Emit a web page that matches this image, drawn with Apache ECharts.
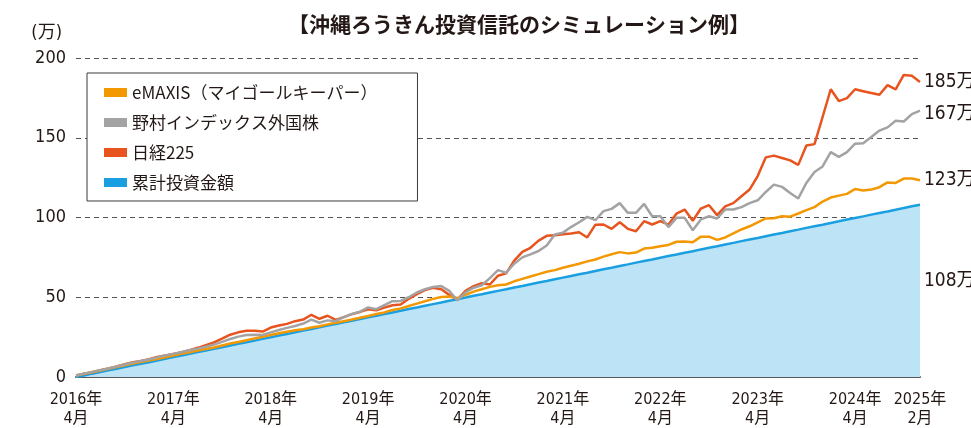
<!DOCTYPE html>
<html><head><meta charset="utf-8">
<script src="https://cdn.jsdelivr.net/npm/echarts@6/dist/echarts.min.js"></script>
<style>html,body{margin:0;padding:0;background:#fff}#c{width:971px;height:428px}</style>
</head><body><div id="c"></div>
<script>
const months = ['2016-04','2016-05','2016-06','2016-07','2016-08','2016-09','2016-10','2016-11','2016-12','2017-01','2017-02','2017-03',
'2017-04','2017-05','2017-06','2017-07','2017-08','2017-09','2017-10','2017-11','2017-12','2018-01','2018-02','2018-03',
'2018-04','2018-05','2018-06','2018-07','2018-08','2018-09','2018-10','2018-11','2018-12','2019-01','2019-02','2019-03',
'2019-04','2019-05','2019-06','2019-07','2019-08','2019-09','2019-10','2019-11','2019-12','2020-01','2020-02','2020-03',
'2020-04','2020-05','2020-06','2020-07','2020-08','2020-09','2020-10','2020-11','2020-12','2021-01','2021-02','2021-03',
'2021-04','2021-05','2021-06','2021-07','2021-08','2021-09','2021-10','2021-11','2021-12','2022-01','2022-02','2022-03',
'2022-04','2022-05','2022-06','2022-07','2022-08','2022-09','2022-10','2022-11','2022-12','2023-01','2023-02','2023-03',
'2023-04','2023-05','2023-06','2023-07','2023-08','2023-09','2023-10','2023-11','2023-12','2024-01','2024-02','2024-03',
'2024-04','2024-05','2024-06','2024-07','2024-08','2024-09','2024-10','2024-11','2025-02'];
const tickMonths = ['2016-04','2017-04','2018-04','2019-04','2020-04','2021-04','2022-04','2023-04','2024-04','2025-02'];
const tickLabels = ['2016年\n4月','2017年\n4月','2018年\n4月','2019年\n4月','2020年\n4月','2021年\n4月','2022年\n4月','2023年\n4月','2024年\n4月','2025年\n2月'];
const seriesNames = ['eMAXIS（マイゴールキーパー）','野村インデックス外国株','日経225','累計投資金額'];
const emaxis = [1.0,2.0,3.0,4.1,5.2,6.3,7.4,8.4,9.4,10.3, 11.2,12.3,13.5,14.5,15.5,16.6,17.5,18.5,19.8,21.0,
22.0,23.0,24.2,25.2,26.3,27.4,28.4,29.3,30.0,31.0, 31.8,33.0,34.0,35.0,36.0,37.2,38.3,39.5,40.5,42.0,
43.0,44.5,46.0,47.5,49.0,50.2,50.5,49.5,51.5,53.5, 55.0,56.5,57.5,58.0,60.0,61.5,63.0,64.5,66.0,67.0,
68.5,69.8,71.0,72.5,73.7,75.5,77.0,78.3,77.5,78.0, 80.5,81.0,82.0,82.8,84.8,85.0,84.5,88.0,88.0,86.0,
87.5,90.0,92.5,94.5,97.0,99.4,99.5,100.8,100.5,102.5, 104.6,106.5,110.0,112.5,113.7,114.8,117.9,116.9,117.5,119.0,
122.0,121.7,124.4,124.4,123.4];
const nomura = [1.0,2.0,3.2,4.2,5.3,6.5,7.8,9.0,10.0,11.0, 12.3,13.5,14.5,15.5,16.8,17.8,19.0,20.3,22.0,23.8,
25.3,26.3,26.5,26.3,28.0,29.5,30.8,32.0,33.5,36.0, 34.0,35.5,35.0,37.5,39.5,41.0,43.6,42.5,45.0,47.5,
47.7,50.0,53.0,55.0,56.5,57.0,54.0,48.0,53.0,56.0, 57.5,62.0,67.0,65.4,71.0,75.0,76.9,79.0,82.5,89.4,
90.5,94.0,97.0,100.4,98.3,104.0,105.4,109.0,102.9,102.9, 108.5,100.8,100.8,94.0,99.8,99.8,92.0,98.8,100.8,99.4,
105.0,105.0,106.5,109.0,110.8,116.0,120.6,119.2,115.4,111.9, 121.7,128.5,132.0,141.0,138.0,141.0,146.3,146.6,150.5,154.5,
156.5,160.6,160.2,164.8,167.0];
const nikkei = [1.0,2.0,3.0,4.2,5.3,6.6,8.0,9.2,10.0,11.2, 12.5,13.5,14.5,15.5,16.8,18.3,20.0,21.7,24.0,26.5,
28.0,29.0,29.0,28.5,31.0,32.3,33.3,35.0,36.0,39.0, 36.5,38.4,35.8,37.5,39.4,40.8,42.5,41.8,43.5,45.0,
45.5,49.0,52.0,54.5,56.0,55.0,51.5,48.5,54.0,57.0, 58.8,58.0,63.5,65.0,73.0,78.5,81.0,85.5,88.5,88.8,
89.5,90.0,90.8,87.5,95.5,95.6,92.9,97.0,92.9,91.4, 97.7,95.6,97.7,95.5,102.5,105.0,98.0,105.6,107.7,101.5,
107.0,109.0,113.3,117.5,126.0,137.7,138.8,137.3,135.8,133.0, 145.2,146.0,163.0,180.4,173.0,174.8,180.4,179.2,178.0,177.0,
183.0,180.4,189.4,188.8,185.0];
const invested = [0,1.0,2.1,3.1,4.2,5.2,6.2,7.3,8.3,9.3, 10.4,11.4,12.5,13.5,14.5,15.6,16.6,17.7,18.7,19.7,
20.8,21.8,22.8,23.9,24.9,26.0,27.0,28.0,29.1,30.1, 31.2,32.2,33.2,34.3,35.3,36.3,37.4,38.4,39.5,40.5,
41.5,42.6,43.6,44.7,45.7,46.7,47.8,48.8,49.8,50.9, 51.9,53.0,54.0,55.0,56.1,57.1,58.2,59.2,60.2,61.3,
62.3,63.3,64.4,65.4,66.5,67.5,68.5,69.6,70.6,71.7, 72.7,73.7,74.8,75.8,76.8,77.9,78.9,80.0,81.0,82.0,
83.1,84.1,85.2,86.2,87.2,88.3,89.3,90.3,91.4,92.4, 93.5,94.5,95.5,96.6,97.6,98.7,99.7,100.7,101.8,102.8,
103.8,104.9,105.9,107.0,108.0];

const NUM = "'Liberation Sans Narrow','DejaVu Sans Condensed','Noto Sans CJK JP',sans-serif";
const JP = "'Noto Sans CJK JP',sans-serif";
const chart = echarts.init(document.getElementById('c'), null, {renderer:'canvas'});
const endLbl = (extra) => Object.assign({show:true, formatter:p => Math.round(p.value) + '万', distance:4,
  fontFamily:NUM, fontSize:19, color:'#231815'}, extra||{});
chart.setOption({
  animation:false,
  backgroundColor:'#fff',
  title:{text:'【沖縄ろうきん投資信託のシミュレーション例】', left:283, top:9,
    textStyle:{fontFamily:JP, fontSize:21, fontWeight:'bold', color:'#231815'}},
  legend:{data:seriesNames, orient:'vertical', left:87, top:73, icon:'rect', itemWidth:23, itemHeight:9,
    itemGap:13, padding:[11,40,10,17], backgroundColor:'#fff', borderColor:'#3e3a39', borderWidth:1,
    textStyle:{fontFamily:JP, fontSize:17, color:'#231815'}, z:10},
  grid:{left:76, right:51, top:58, bottom:50},
  xAxis:{type:'category', data:months, boundaryGap:false,
    axisLine:{lineStyle:{color:'#595757', width:2}}, axisTick:{show:false},
    axisLabel:{interval:(i, v) => tickMonths.indexOf(v) >= 0, hideOverlap:false,
      formatter:v => tickLabels[tickMonths.indexOf(v)],
      fontFamily:NUM, fontSize:16, lineHeight:19, color:'#231815', margin:13}},
  yAxis:{type:'value', min:0, max:200, interval:50, name:'(万)', nameLocation:'end', nameGap:16,
    nameTextStyle:{fontFamily:NUM, fontSize:18, color:'#231815', align:'right', padding:[0,14,0,0]},
    axisLine:{show:false}, axisTick:{show:false},
    axisLabel:{fontFamily:NUM, fontSize:18, color:'#231815', margin:10},
    splitLine:{lineStyle:{color:'#555', type:[5,4], width:1}}},
  series:[
    {name:seriesNames[3], type:'line', data:invested, symbol:'none', z:2,
      lineStyle:{color:'#1a9fe0', width:2.5}, itemStyle:{color:'#1a9fe0'},
      areaStyle:{color:'#bde3f7', opacity:1}, endLabel:endLbl({offset:[0,76]})},
    {name:seriesNames[2], type:'line', data:nikkei, symbol:'none', z:3,
      lineStyle:{color:'#e8541e', width:2.5}, itemStyle:{color:'#e8541e'}, endLabel:endLbl()},
    {name:seriesNames[0], type:'line', data:emaxis, symbol:'none', z:4,
      lineStyle:{color:'#f39800', width:2.5}, itemStyle:{color:'#f39800'}, endLabel:endLbl()},
    {name:seriesNames[1], type:'line', data:nomura, symbol:'none', z:5,
      lineStyle:{color:'#a3a3a3', width:2.5}, itemStyle:{color:'#a3a3a3'}, endLabel:endLbl({offset:[0,3]})}
  ]
});
</script></body></html>
